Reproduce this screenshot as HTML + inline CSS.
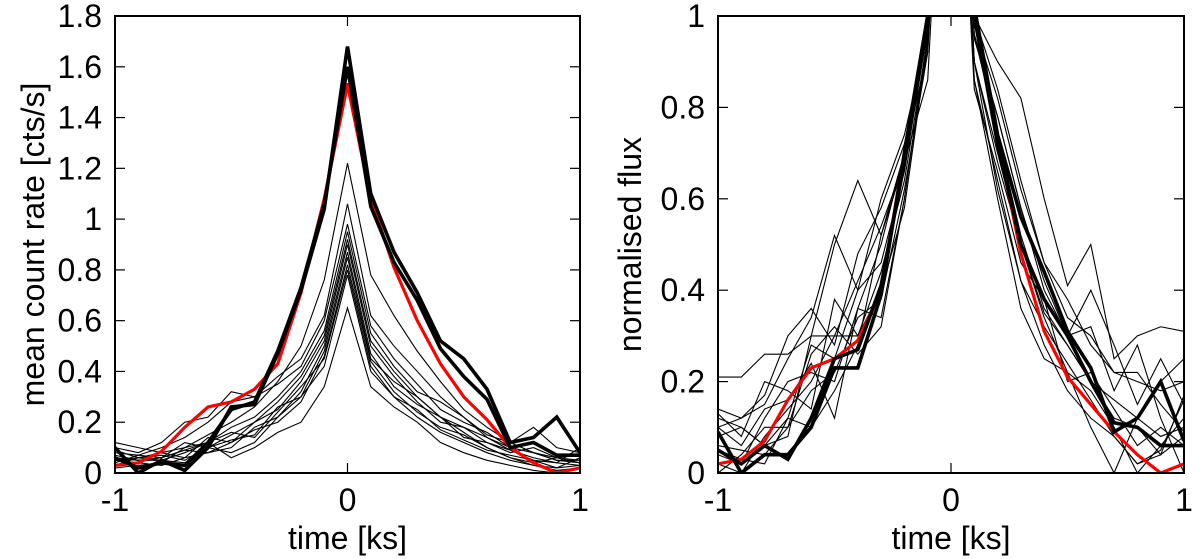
<!DOCTYPE html>
<html><head><meta charset="utf-8"><style>
html,body{margin:0;padding:0;background:#fff}
svg{display:block;font-family:"Liberation Sans",sans-serif}
</style></head><body>
<svg id="chart" width="1200" height="559" viewBox="0 0 1200 559" xmlns="http://www.w3.org/2000/svg">
<defs>
<clipPath id="clipL"><rect x="115" y="16" width="465" height="457"/></clipPath>
<clipPath id="clipR"><rect x="718" y="16" width="466" height="457"/></clipPath>
</defs>
<g id="left"></g>
<g id="right"></g>
</svg>
<script>
const times = [-1,-0.9,-0.8,-0.7,-0.6,-0.5,-0.4,-0.3,-0.2,-0.1,0,0.1,0.2,0.3,0.4,0.5,0.6,0.7,0.8,0.9,1];
const leftYTicks = [0,0.2,0.4,0.6,0.8,1,1.2,1.4,1.6,1.8];
const leftYTickLabels = ["0","0.2","0.4","0.6","0.8","1","1.2","1.4","1.6","1.8"];
const rightYTicks = [0,0.2,0.4,0.6,0.8,1];
const rightYTickLabels = ["0","0.2","0.4","0.6","0.8","1"];
const xTicks = [-1,0,1];
const xTickLabels = ["-1","0","1"];

const leftThin = [
[0.05,0.06,0.08,0.10,0.15,0.2,0.26,0.36,0.5,0.76,1.22,0.78,0.62,0.48,0.36,0.25,0.18,0.12,0.08,0.05,0.04],
[0.08,0.07,0.1,0.14,0.2,0.28,0.3,0.38,0.45,0.62,1.06,0.62,0.5,0.4,0.3,0.22,0.14,0.1,0.08,0.06,0.07],
[0.1,0.08,0.12,0.2,0.22,0.32,0.3,0.35,0.42,0.6,0.98,0.58,0.45,0.35,0.25,0.2,0.16,0.1,0.08,0.05,0.05],
[0.06,0.05,0.05,0.08,0.12,0.18,0.22,0.3,0.4,0.56,0.95,0.55,0.42,0.32,0.28,0.22,0.15,0.12,0.18,0.1,0.08],
[0.04,0.07,0.06,0.12,0.1,0.15,0.2,0.28,0.38,0.54,0.92,0.52,0.4,0.3,0.22,0.18,0.14,0.09,0.06,0.04,0.1],
[0.12,0.1,0.08,0.06,0.14,0.12,0.2,0.25,0.36,0.52,0.9,0.5,0.38,0.28,0.2,0.18,0.12,0.08,0.1,0.06,0.04],
[0.05,0.04,0.03,0.06,0.08,0.1,0.18,0.22,0.32,0.5,0.87,0.47,0.34,0.27,0.22,0.16,0.1,0.06,0.03,0.02,0.03],
[0.03,0.06,0.05,0.04,0.1,0.13,0.15,0.26,0.3,0.48,0.85,0.45,0.36,0.3,0.22,0.14,0.12,0.09,0.05,0.02,0.06],
[0.07,0.05,0.06,0.09,0.08,0.12,0.17,0.2,0.28,0.46,0.82,0.44,0.32,0.24,0.18,0.15,0.1,0.06,0.04,0.06,0.05],
[0.02,0.03,0.04,0.1,0.12,0.16,0.14,0.24,0.34,0.45,0.8,0.42,0.3,0.22,0.16,0.12,0.08,0.05,0.03,0.01,0.02],
[0.09,0.06,0.07,0.05,0.1,0.08,0.12,0.22,0.3,0.42,0.78,0.4,0.3,0.25,0.17,0.13,0.09,0.07,0.05,0.04,0.03],
[0.06,0.05,0.06,0.09,0.12,0.06,0.1,0.16,0.2,0.34,0.65,0.34,0.26,0.2,0.12,0.08,0.05,0.03,0.01,0.0,0.02]
];
const leftRed = [0.03,0.04,0.085,0.18,0.26,0.28,0.33,0.43,0.71,1.08,1.53,1.08,0.81,0.6,0.43,0.30,0.21,0.10,0.04,0.0,0.02];
const leftThickA = [0.1,0.0,0.05,0.01,0.1,0.26,0.27,0.47,0.72,1.04,1.68,1.1,0.87,0.71,0.52,0.45,0.33,0.12,0.14,0.22,0.08];
const leftThickB = [0.06,0.02,0.04,0.03,0.12,0.25,0.28,0.48,0.73,1.06,1.6,1.05,0.83,0.68,0.49,0.38,0.29,0.1,0.12,0.07,0.07];

const rightThin = [
[0.21,0.21,0.26,0.26,0.3,0.5,0.64,0.52,0.68,0.86,1.8,1.0,0.9,0.82,0.6,0.41,0.5,0.25,0.3,0.32,0.31],
[0.14,0.12,0.15,0.25,0.34,0.52,0.4,0.6,0.74,0.96,1.8,0.98,0.82,0.62,0.46,0.38,0.28,0.22,0.2,0.18,0.2],
[0.1,0.12,0.17,0.3,0.36,0.28,0.48,0.58,0.72,0.98,1.8,0.95,0.78,0.58,0.4,0.3,0.4,0.28,0.15,0.25,0.15],
[0.13,0.08,0.2,0.18,0.14,0.38,0.3,0.44,0.64,0.95,1.8,0.9,0.7,0.5,0.34,0.22,0.1,0.0,0.12,0.2,0.25],
[0.04,0.02,0.12,0.2,0.22,0.2,0.36,0.5,0.7,0.92,1.8,0.86,0.64,0.42,0.28,0.18,0.12,0.08,0.02,0.05,0.16],
[0.06,0.05,0.04,0.1,0.26,0.32,0.26,0.32,0.6,0.96,1.8,0.86,0.6,0.36,0.25,0.22,0.18,0.1,0.0,0.06,0.12],
[0.1,0.06,0.14,0.16,0.24,0.12,0.36,0.34,0.6,0.95,1.8,0.96,0.74,0.52,0.36,0.28,0.2,0.12,0.1,0.04,0.17],
[0.02,0.0,0.08,0.14,0.2,0.3,0.42,0.54,0.68,0.98,1.8,0.9,0.62,0.42,0.32,0.24,0.16,0.08,0.02,0.04,0.08],
[0.08,0.1,0.06,0.12,0.28,0.25,0.4,0.46,0.66,0.97,1.8,1.0,0.84,0.64,0.46,0.34,0.3,0.22,0.22,0.15,0.09],
[0.0,0.04,0.1,0.1,0.18,0.22,0.34,0.38,0.62,0.92,1.8,0.84,0.66,0.46,0.38,0.2,0.22,0.14,0.06,0.1,0.06],
[0.12,0.1,0.06,0.08,0.3,0.3,0.3,0.4,0.58,0.94,1.8,0.96,0.78,0.58,0.42,0.3,0.32,0.18,0.28,0.12,0.0],
[0.05,0.03,0.02,0.12,0.1,0.18,0.28,0.52,0.7,1.0,1.8,0.9,0.68,0.5,0.35,0.28,0.2,0.16,0.12,0.08,0.1]
];
const rightRed = [0.02,0.03,0.07,0.16,0.23,0.25,0.29,0.4,0.7,1.0,1.8,1.02,0.73,0.48,0.31,0.21,0.15,0.09,0.04,0.0,0.02];
const rightThickA = [0.09,0.0,0.04,0.04,0.1,0.23,0.23,0.39,0.7,1.0,1.8,1.02,0.74,0.56,0.44,0.31,0.23,0.09,0.12,0.2,0.07];
const rightThickB = [0.05,0.02,0.06,0.03,0.12,0.25,0.27,0.41,0.68,1.0,1.8,1.0,0.72,0.5,0.38,0.3,0.2,0.11,0.1,0.06,0.06];

const NS = "http://www.w3.org/2000/svg";
function mk(tag, attrs, parent){ const e=document.createElementNS(NS,tag); for(const k in attrs) e.setAttribute(k,attrs[k]); parent.appendChild(e); return e; }

function panel(g, cfg){
  const {x0,x1,y0,y1,ymax,yTicks,yLabels,clip,thin,red,thickA,thickB,ylabel,ylabelX,prefix} = cfg;
  const sx = t => x0 + (t+1)/2*(x1-x0);
  const sy = v => y1 - v/ymax*(y1-y0);
  const lines = mk("g",{"clip-path":"url(#"+clip+")"},g);
  
  
  const pts = arr => arr.map((v,i)=>sx(times[i]).toFixed(2)+","+sy(v).toFixed(2)).join(" ");
  thin.forEach((arr,k)=>{
    const p = mk("polyline",{points:pts(arr),fill:"none",stroke:"#000","stroke-width":1.1,"stroke-linejoin":"miter"},lines);
    
    
  });
  const r = mk("polyline",{points:pts(red),fill:"none",stroke:"#f00","stroke-width":3.2,"stroke-linejoin":"round"},lines);
  
  
  const a = mk("polyline",{points:pts(thickA),fill:"none",stroke:"#000","stroke-width":3.6,"stroke-linejoin":"miter"},lines);
  
  
  const b = mk("polyline",{points:pts(thickB),fill:"none",stroke:"#000","stroke-width":3.6,"stroke-linejoin":"miter"},lines);
  
  
  yTicks.forEach((v,i)=>{
    const y = sy(v);
    if (i>0 && i<yTicks.length-1){
      mk("line",{x1:x0,x2:x0+10,y1:y,y2:y,stroke:"#000","stroke-width":1.2},g);
      mk("line",{x1:x1-10,x2:x1,y1:y,y2:y,stroke:"#000","stroke-width":1.2},g);
    }
    const t = mk("text",{x:x0-13,y:y+11,"text-anchor":"end","font-size":32},g);
    t.textContent = yLabels[i];
    
    
  });
  xTicks.forEach((v,i)=>{
    const x = sx(v);
    if (v===0){
      mk("line",{x1:x,x2:x,y1:y1,y2:y1-10,stroke:"#000","stroke-width":1.2},g);
      mk("line",{x1:x,x2:x,y1:y0,y2:y0+10,stroke:"#000","stroke-width":1.2},g);
    }
    const t = mk("text",{x:x,y:511,"text-anchor":"middle","font-size":32},g);
    t.textContent = xTickLabels[i];
    
    
  });
  const fr = mk("rect",{x:x0,y:y0,width:x1-x0,height:y1-y0,fill:"none",stroke:"#000","stroke-width":2},g);
  
  
  const xl = mk("text",{x:(x0+x1)/2,y:549,"text-anchor":"middle","font-size":32},g);
  xl.textContent = "time [ks]";
  
  
  const yc = (y0+y1)/2;
  const yl = mk("text",{x:ylabelX,y:yc,"text-anchor":"middle","font-size":32,transform:"rotate(-90 "+ylabelX+" "+yc+")"},g);
  yl.textContent = ylabel;
  
  
}

panel(document.getElementById("left"),{x0:115,x1:580,y0:16,y1:473,ymax:1.8,yTicks:leftYTicks,yLabels:leftYTickLabels,clip:"clipL",
  thin:leftThin,red:leftRed,thickA:leftThickA,thickB:leftThickB,ylabel:"mean count rate [cts/s]",ylabelX:44,prefix:"left"});
panel(document.getElementById("right"),{x0:718,x1:1184,y0:16,y1:473,ymax:1,yTicks:rightYTicks,yLabels:rightYTickLabels,clip:"clipR",
  thin:rightThin,red:rightRed,thickA:rightThickA,thickB:rightThickB,ylabel:"normalised flux",ylabelX:641,prefix:"right"});
</script>
</body></html>
